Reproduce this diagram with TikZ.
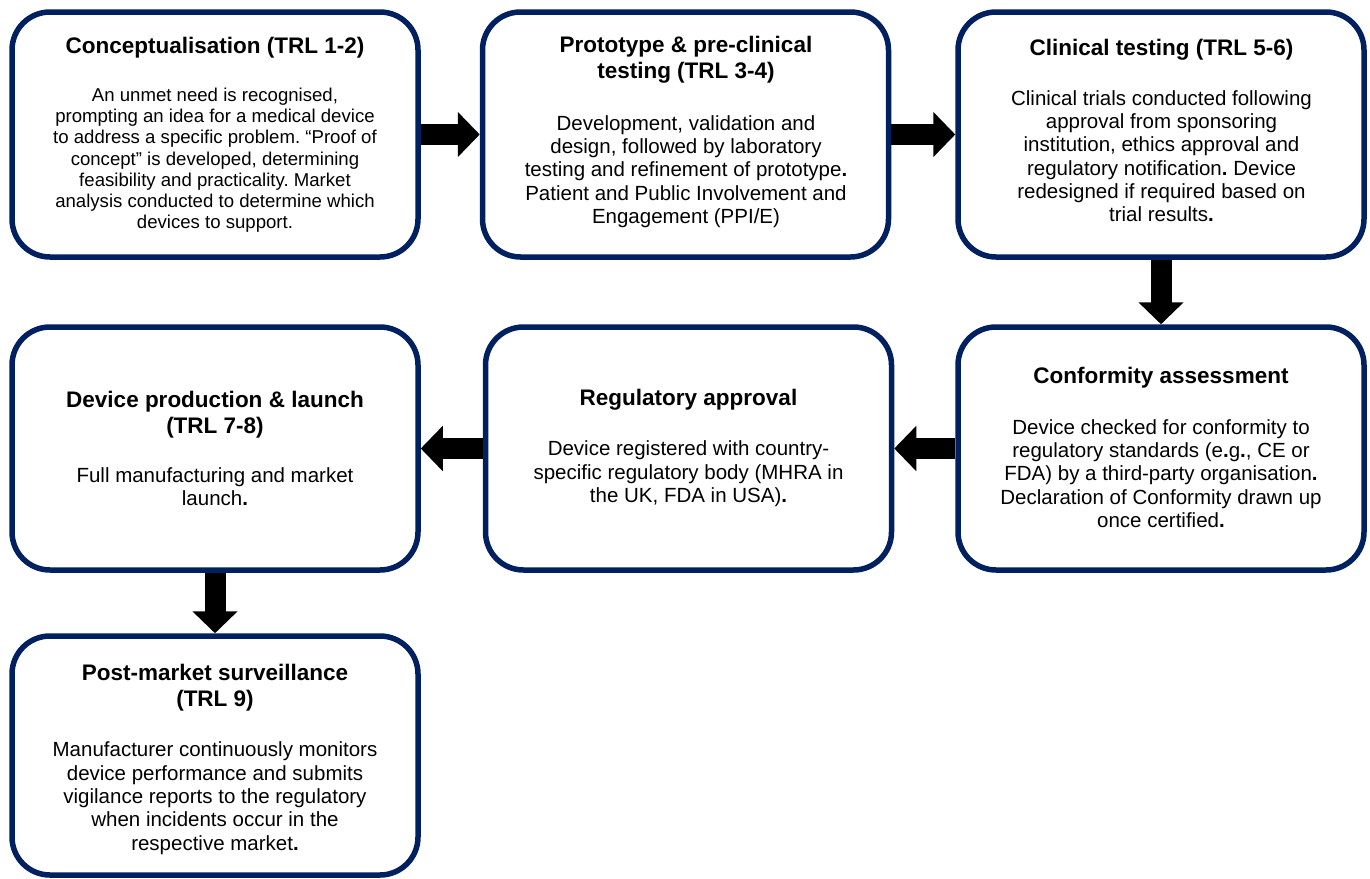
\documentclass[tikz,border=0pt]{standalone}
\usepackage{fontspec}
\setmainfont{Liberation Sans}
\usetikzlibrary{arrows.meta}
\definecolor{navy}{HTML}{002060}
\frenchspacing
\tikzset{
  stage/.style={draw=navy, line width=5.5pt, rounded corners=38pt, minimum width=406pt, inner sep=0pt, fill=white},
  ttl/.style={anchor=base, align=center, inner sep=0pt, font=\fontsize{22.5}{26}\selectfont\bfseries},
  bdy/.style={anchor=base, align=center, inner sep=0pt, font=\fontsize{20.5}{23.3}\selectfont},
  smallbdy/.style={bdy, font=\fontsize{18.6}{21.1}\selectfont},
  blockarrow/.style={line width=21pt, black, -{Triangle[length=22pt,width=44pt]}},
}
\begin{document}
\begin{tikzpicture}[x=1pt,y=-1pt]
\fill[white] (0,0) rectangle (1370,878);
\useasboundingbox (0,0) rectangle (1370,878);
% boxes
\node[stage, minimum height=245pt] (b1) at (215,134.5) {};
\node[stage, minimum height=245pt] (b2) at (685.5,134.5) {};
\node[stage, minimum height=245pt] (b3) at (1161,134.5) {};
\node[stage, minimum height=243pt] (b4) at (215,448.5) {};
\node[stage, minimum height=243pt] (b5) at (688.5,448.5) {};
\node[stage, minimum height=243pt] (b6) at (1161,448.5) {};
\node[stage, minimum height=239pt] (b7) at (215,755.5) {};
% texts (anchor=base is the baseline of the last line)
\node[ttl] (t1) at (215,53.3) {Conceptualisation (TRL 1-2)};
\node[smallbdy] (d1) at (215,228.3) {An unmet need is recognised,\\prompting an idea for a medical device\\to address a specific problem. “Proof of\\concept” is developed, determining\\feasibility and practicality. Market\\analysis conducted to determine which\\devices to support.};
\node[ttl] (t2) at (686,78.8) {Prototype \& pre-clinical\\testing (TRL 3-4)};
\node[bdy] (d2) at (686,223.3) {Development, validation and\\design, followed by laboratory\\testing and refinement of prototype\textbf{.}\\Patient and Public Involvement and\\Engagement (PPI/E)};
\node[ttl] (t3) at (1161.5,55) {Clinical testing (TRL 5-6)};
\node[bdy] (d3) at (1161.5,221.7) {Clinical trials conducted following\\approval from sponsoring\\institution, ethics approval and\\regulatory notification\textbf{.} Device\\redesigned if required based on\\trial results\textbf{.}};
\node[ttl] (t4) at (215,433.3) {Device production \& launch\\(TRL 7-8)};
\node[bdy] (d4) at (215,505.7) {Full manufacturing and market\\launch\textbf{.}};
\node[ttl] (t5) at (688.5,405.7) {Regulatory approval};
\node[bdy] (d5) at (688.5,502.3) {Device registered with country-\\specific regulatory body (MHRA in\\the UK, FDA in USA)\textbf{.}};
\node[ttl] (t6) at (1161,383.3) {Conformity assessment};
\node[bdy] (d6) at (1161,527.3) {Device checked for conformity to\\regulatory standards (e\textbf{.}g\textbf{.}, CE or\\FDA) by a third-party organisation\textbf{.}\\Declaration of Conformity drawn up\\once certified\textbf{.}};
\node[ttl] (t7) at (215,706.7) {Post-market surveillance\\(TRL 9)};
\node[bdy] (d7) at (215,850) {Manufacturer continuously monitors\\device performance and submits\\vigilance reports to the regulatory\\when incidents occur in the\\respective market\textbf{.}};
% connectors
\draw[blockarrow] (b1.east) -- (b2.west);
\draw[blockarrow] (b2.east) -- (b3.west);
\draw[blockarrow] (b3.south) -- (b6.north);
\draw[blockarrow] (b6.west) -- (b5.east);
\draw[blockarrow] (b5.west) -- (b4.east);
\draw[blockarrow] (b4.south) -- (b7.north);
\end{tikzpicture}
\end{document}
